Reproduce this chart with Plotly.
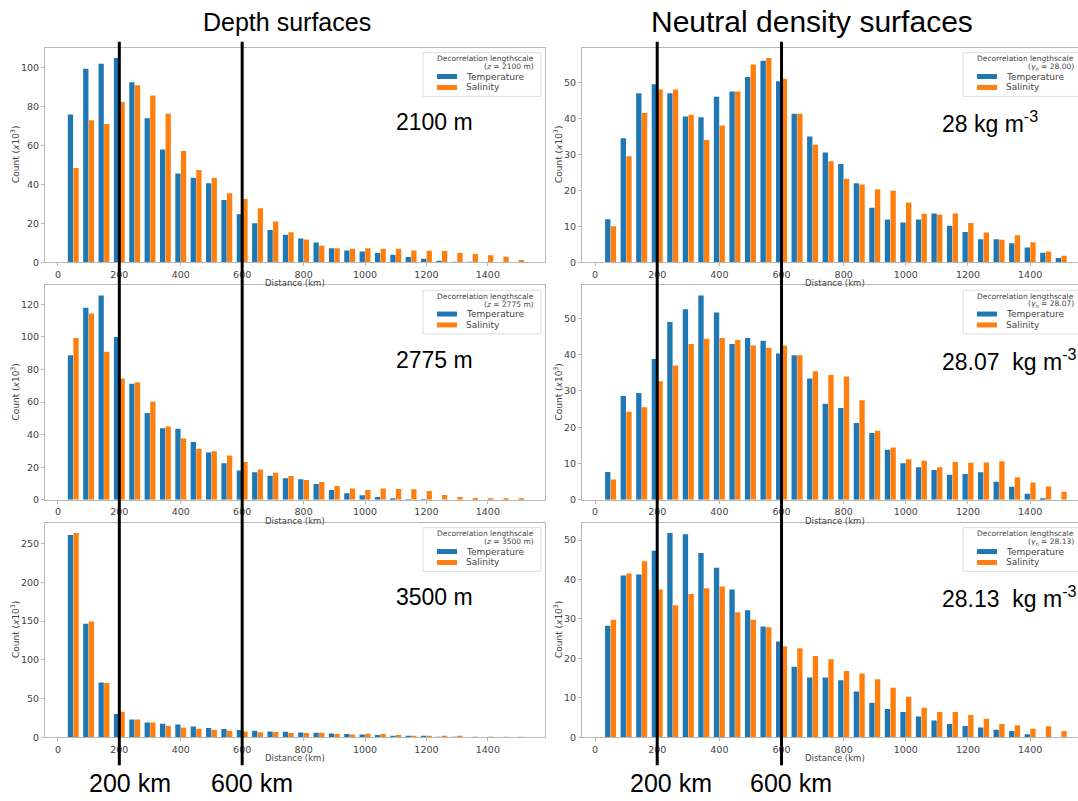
import plotly.graph_objects as go

W, H = 1078, 801
def fx(p): return p / W
def fy(p): return 1 - p / H

bins_km = [50, 100, 150, 200, 250, 300, 350, 400, 450, 500, 550, 600, 650, 700, 750,
           800, 850, 900, 950, 1000, 1050, 1100, 1150, 1200, 1250, 1300, 1350, 1400, 1450, 1500]

# Depth 2100 m
t_2100 = [76, 99.5, 102, 105, 92.5, 74, 58, 45.7, 43.5, 40.6, 32, 24.7, 20.1, 16.6, 14.2,
          12.3, 10.2, 7.3, 6.1, 5.6, 4.8, 3.9, 2.7, 1.9, 0.7, 0.2, 0.1, 0, 0, 0]
s_2100 = [48.5, 73, 71, 82.3, 91, 85.7, 76.3, 57.2, 47.4, 43.3, 35.5, 32.6, 27.8, 21, 15.5,
          11.8, 8.5, 7.3, 7, 7.2, 7, 7, 6.1, 6, 5.8, 4.8, 4.3, 3.6, 2.9, 1.2]
# Neutral density 28.00
t_2800 = [12, 34.5, 47, 49.5, 47, 40.5, 40.3, 46, 47.5, 51.5, 56, 50.3, 41.3, 35, 30.5,
          27.3, 22, 15.2, 11.9, 11.1, 11.9, 13.6, 10.2, 8.4, 6.4, 6.4, 5.3, 4.1, 2.7, 1.2]
s_2800 = [10, 29.5, 41.5, 48, 48, 41, 34, 38, 47.5, 55, 56.8, 51, 41.3, 32.7, 28.1,
          23.2, 21.6, 20.3, 19.9, 16.6, 13.5, 13.2, 13.6, 10.9, 8.3, 6.3, 7.5, 5.6, 3.0, 1.8]
# Depth 2775 m
t_2775 = [88.7, 117.9, 125.4, 99.9, 71.3, 53.3, 44, 43.6, 35.5, 29, 22.5, 18, 17, 14.8, 13.2,
          12.6, 9.7, 6.1, 4.1, 2.8, 1.8, 0.8, 0.3, 0.2, 0, 0, 0, 0, 0, 0]
s_2775 = [99.3, 114.3, 90.8, 74.4, 72.1, 60.2, 45, 37.7, 31.4, 29.8, 27.2, 23.3, 18.6, 16.6, 14.6,
          12.2, 10.9, 8.5, 6.9, 6.1, 6.9, 6.7, 6.5, 5.5, 3.0, 1.8, 1.2, 1.0, 0.8, 0.6]
# Neutral density 28.07
t_2807 = [7.7, 28.6, 29.4, 38.8, 49, 52.5, 56.3, 51.6, 42.9, 44.6, 43.8, 40.3, 39.8, 33.4, 26.5,
          25.3, 21.2, 18.4, 13.8, 10.1, 9, 8.2, 6.9, 7.1, 7.6, 5, 3.6, 1.7, 0.2, 0]
s_2807 = [5.6, 24.3, 25.5, 32.7, 37, 42.9, 44.4, 44.6, 44, 42.5, 41.9, 42.5, 39.8, 35.4, 34.4,
          34, 27.4, 19, 14.4, 11.2, 10.8, 9, 10.4, 10.2, 10.3, 10.6, 6.2, 4.8, 3.7, 2.2]
# Depth 3500 m
t_3500 = [261, 146.6, 70.9, 30.3, 23.1, 19.2, 17.5, 16.7, 14.1, 12, 10.7, 9.4, 8.5, 7.5, 7.3,
          6.4, 6, 5.1, 4.3, 3.8, 3, 2.1, 1.7, 1, 0.5, 0.3, 0, 0, 0, 0]
s_3500 = [263.7, 149.6, 70.1, 32.9, 23, 19.3, 15, 12.4, 11.1, 9.8, 8.5, 7.7, 6.5, 7, 5.6,
          5.6, 6, 4.3, 3.8, 4.7, 4.3, 3, 2.1, 1.7, 1.2, 1, 0.8, 0.6, 0.5, 0.4]
# Neutral density 28.13
t_2813 = [28.3, 41, 41.3, 47.3, 51.8, 51.5, 46.7, 43, 37.5, 32.2, 28.1, 24.3, 17.9, 15.2, 15.2,
          14.5, 11.6, 8.8, 7.2, 6.4, 5.3, 4.3, 3.4, 2.9, 2.5, 1.9, 1.6, 0.8, 0, 0]
s_2813 = [29.8, 41.5, 44.6, 37.5, 33.5, 36.3, 37.8, 38.2, 31.7, 29.8, 27.9, 23.1, 22.6, 20.6, 19.8,
          16.8, 16.2, 14.7, 12.6, 10.3, 7.5, 6.4, 6.4, 5.7, 4.7, 3.4, 3.1, 2.2, 2.8, 1.6]

legend_subtitles = ["(<i>z</i> = 2100 m)", "(<i>γ</i><sub>n</sub> = 28.00)",
                    "(<i>z</i> = 2775 m)", "(<i>γ</i><sub>n</sub> = 28.07)",
                    "(<i>z</i> = 3500 m)", "(<i>γ</i><sub>n</sub> = 28.13)"]
panel_labels = ["2100 m", "28 kg m<sup>-3</sup>", "2775 m", "28.07  kg m<sup>-3</sup>",
                "3500 m", "28.13  kg m<sup>-3</sup>"]
x_ticks = [0, 200, 400, 600, 800, 1000, 1200, 1400]
y_dticks = [20, 10, 20, 10, 50, 10]
marker_lines_km = [200, 600]

series = [(t_2100, s_2100), (t_2800, s_2800), (t_2775, s_2775),
          (t_2807, s_2807), (t_3500, s_3500), (t_2813, s_2813)]

BLUE, ORANGE = "#1f77b4", "#ff7f0e"
TICK_C = "#444444"
FRAME_C = "#b8b8b8"
MPL_FONT = "DejaVu Sans"
BIG_FONT = "Liberation Sans, Arial"

rows_top = [48, 287, 526]
rows_bot = [264, 503, 742]
col_left = [(45, 545), (582, 1078)]
col_xrange = [[-42, 1586], [-42, 1554]]

fig = go.Figure()
layout = dict()
shapes = []
annotations = []

def ann(px, py, text, size, family=MPL_FONT, color=TICK_C, xanchor="center", angle=0):
    annotations.append(dict(x=fx(px), y=fy(py), xref="paper", yref="paper", text=text,
                            showarrow=False, xanchor=xanchor, yanchor="middle", textangle=angle,
                            font=dict(family=family, size=size, color=color)))

for i, (tv, sv) in enumerate(series):
    r, c = i // 2, i % 2
    n = i + 1
    xa = "x" if n == 1 else f"x{n}"
    ya = "y" if n == 1 else f"y{n}"
    fig.add_trace(go.Bar(x=bins_km, y=tv, xaxis=xa, yaxis=ya, marker_color=BLUE,
                         marker_line_width=0, name="Temperature"))
    fig.add_trace(go.Bar(x=bins_km, y=sv, xaxis=xa, yaxis=ya, marker_color=ORANGE,
                         marker_line_width=0, name="Salinity"))
    T, B = rows_top[r], rows_bot[r]
    L, R = col_left[c]
    ymax = 1.05 * max(max(tv), max(sv))
    layout["xaxis" if n == 1 else f"xaxis{n}"] = dict(
        domain=[fx(L), fx(R)], anchor=ya, range=col_xrange[c], tickvals=x_ticks,
        ticks="outside", ticklen=3, tickcolor=FRAME_C, showline=True, linecolor=FRAME_C,
        linewidth=1, mirror=True, showgrid=False, zeroline=False,
        tickfont=dict(family=MPL_FONT, size=9.5, color=TICK_C))
    layout["yaxis" if n == 1 else f"yaxis{n}"] = dict(
        domain=[fy(B), fy(T)], anchor=xa, range=[0, ymax], dtick=y_dticks[i], tick0=0,
        ticks="outside", ticklen=3, tickcolor=FRAME_C, showline=True, linecolor=FRAME_C,
        linewidth=1, mirror=(c == 0), showgrid=False, zeroline=False,
        tickfont=dict(family=MPL_FONT, size=9.5, color=TICK_C))
    ann(15 if c == 0 else 558, (T + B) / 2, "Count (<i>x</i>10<sup>3</sup>)", 9, angle=-90)
    ann(295 if c == 0 else 835, B + 21, "Distance (km)", 8.5)
    # legend box
    bl = 423 if c == 0 else 963
    br = bl + 118
    shapes.append(dict(type="rect", xref="paper", yref="paper", x0=fx(bl), x1=fx(br),
                       y0=fy(T + 49), y1=fy(T + 5), line=dict(color="#dddddd", width=1),
                       fillcolor="rgba(255,255,255,0.8)", layer="above"))
    ann(bl + 113, T + 11, "Decorrelation lengthscale", 7.5, xanchor="right")
    ann(bl + 113, T + 19, legend_subtitles[i], 7.5, xanchor="right")
    for col, lab, dy in [(BLUE, "Temperature", 29), (ORANGE, "Salinity", 40)]:
        shapes.append(dict(type="rect", xref="paper", yref="paper", x0=fx(bl + 14), x1=fx(bl + 34),
                           y0=fy(T + dy + 2.5), y1=fy(T + dy - 2.5), line=dict(width=0),
                           fillcolor=col, layer="above"))
        ann(bl + 41, T + dy, lab, 9, xanchor="left")
    ann(394 if c == 0 else 940, T + 75, panel_labels[i], 23, family=BIG_FONT, color="black",
        xanchor="left")

for xr in ["x", "x2"]:
    for km in marker_lines_km:
        shapes.append(dict(type="line", xref=xr, yref="paper", x0=km, x1=km,
                           y0=fy(770), y1=fy(42), line=dict(color="black", width=3), layer="above"))

ann(287, 22, "Depth surfaces", 25, family=BIG_FONT, color="black")
ann(812, 22, "Neutral density surfaces", 30, family=BIG_FONT, color="black")
for cx, txt in [(130, "200 km"), (252, "600 km"), (671, "200 km"), (791, "600 km")]:
    ann(cx, 788, txt, 25, family=BIG_FONT, color="black")

fig.update_layout(width=W, height=H, margin=dict(l=0, r=0, t=0, b=0), barmode="group",
                  bargap=0.27, bargroupgap=0.06, showlegend=False,
                  plot_bgcolor="white", paper_bgcolor="white",
                  shapes=shapes, annotations=annotations, **layout)
fig.write_html("out.html")
